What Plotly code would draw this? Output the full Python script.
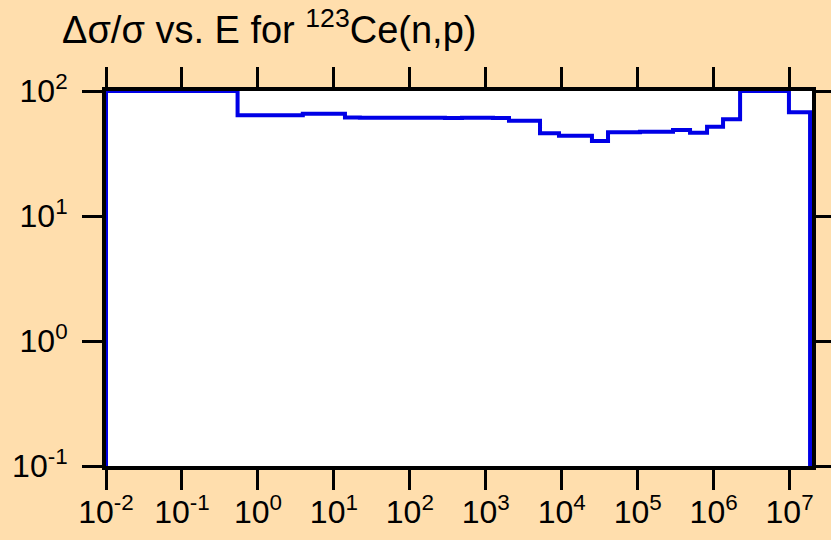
import plotly.graph_objects as go

# Bin edges (eV) and relative uncertainty (%) per bin
edges = [0.01, 0.54, 3.9, 14, 22, 68, 196, 290, 486, 767, 1245, 2020, 5180,
         9200, 25000, 40700, 107000, 292000, 489000, 819000, 1.33e6, 2.23e6,
         9.8e6, 1.86e7]
values = [100, 64.0, 65.8, 61.3, 61.0, 61.2, 61.1, 60.9, 61.1, 61.0, 60.8,
          57.8, 45.9, 43.8, 39.8, 46.7, 47.2, 48.8, 46.4, 51.8, 59.4, 100, 67.6]
floor_value = 0.05

x_tick_vals = [1e-2, 1e-1, 1e0, 1e1, 1e2, 1e3, 1e4, 1e5, 1e6, 1e7]
x_tick_text = ["10<sup>-2</sup>", "10<sup>-1</sup>", "10<sup>0</sup>", "10<sup>1</sup>",
               "10<sup>2</sup>", "10<sup>3</sup>", "10<sup>4</sup>", "10<sup>5</sup>",
               "10<sup>6</sup>", "10<sup>7</sup>"]
y_tick_vals = [1e-1, 1e0, 1e1, 1e2]
y_tick_text = ["10<sup>-1</sup>", "10<sup>0</sup>", "10<sup>1</sup>", "10<sup>2</sup>"]

title_text = "\u0394\u03c3/\u03c3 vs. E for <sup>123</sup>Ce(n,p)"

xs = [edges[0]] + edges + [edges[-1]]
ys = [floor_value] + values + [values[-1], floor_value]

font_family = "Liberation Sans, Arial, Helvetica, sans-serif"

fig = go.Figure()
fig.add_trace(go.Scatter(
    x=xs, y=ys, mode="lines", line=dict(color="#0000e6", width=4, shape="hv"),
    hoverinfo="skip", showlegend=False,
))

axis_common = dict(
    showgrid=False, zeroline=False, showline=True, linecolor="black", linewidth=4,
    mirror="allticks", ticks="outside", ticklen=20, tickwidth=2.5, tickcolor="black",
    layer="below traces", automargin=False,
    tickfont=dict(family=font_family, size=32, color="black"),
)

fig.update_layout(
    width=831, height=540,
    margin=dict(l=106, r=19, t=91, b=74, autoexpand=False),
    paper_bgcolor="#FFDEAD", plot_bgcolor="white",
    title=dict(text=title_text, x=62 / 831, xanchor="left", xref="container",
               y=1 - 30 / 540, yanchor="middle", yref="container",
               font=dict(family=font_family, size=38, color="black")),
    xaxis=dict(type="log", range=[-2, 7.295], tickvals=x_tick_vals, ticktext=x_tick_text,
               ticklabelstandoff=-5, **axis_common),
    yaxis=dict(type="log", range=[-1, 2], tickvals=y_tick_vals, ticktext=y_tick_text,
               ticklabelstandoff=8, **axis_common),
)

fig.write_html(
    "out.html",
    config={"displayModeBar": False},
    post_script="document.body.style.margin='0';document.body.style.background='#FFDEAD';",
)
